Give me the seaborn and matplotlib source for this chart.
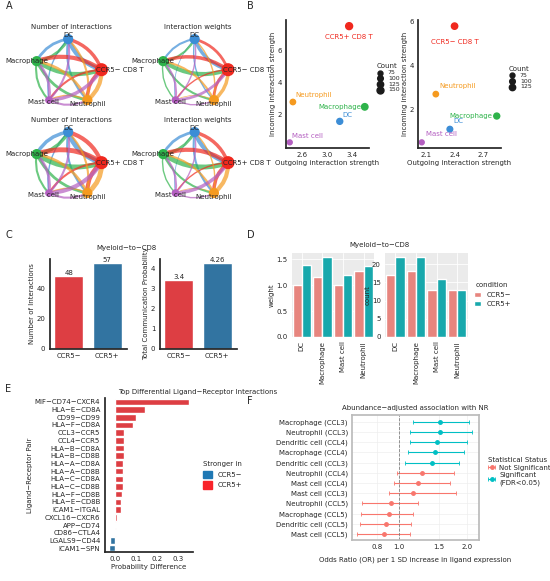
import numpy as np
import pandas as pd
import matplotlib
matplotlib.use("Agg")
import matplotlib.pyplot as plt
import seaborn as sns
from matplotlib.patches import FancyArrowPatch, Patch

sns.set_theme(style="white")
plt.rcParams['font.family'] = ['DejaVu Sans']
plt.rcParams['font.size'] = 5

# ---- data ----
cells = ["DC", "Macrophage", "CD8 T", "Neutrophil", "Mast cell"]
cell_colors = ["#3C8DD6", "#2EB34A", "#F0281E", "#F59A1F", "#B45FC1"]
net_neg_count = np.array([[3, 4, 6, 3, 2], [4, 5, 6, 4, 3], [5, 6, 8, 5, 3],
                          [3, 4, 6, 4, 2], [3, 4, 5, 3, 2]])
net_neg_weight = np.array([[2, 3, 5, 2, 1], [3, 5, 6, 3, 2], [4, 5, 8, 4, 2],
                           [2, 3, 5, 3, 1], [2, 3, 4, 2, 1]])
net_pos_count = np.array([[3, 5, 7, 3, 2], [5, 6, 7, 4, 3], [6, 7, 9, 6, 3],
                          [3, 4, 7, 4, 2], [3, 4, 6, 3, 2]])
net_pos_weight = np.array([[3, 4, 6, 3, 1], [4, 6, 7, 3, 2], [5, 6, 9, 5, 2],
                           [2, 3, 6, 3, 1], [2, 3, 5, 2, 1]])

b_cells = ["CCR5+ CD8 T", "Neutrophil", "Macrophage", "DC", "Mast cell"]
b_pos_x = [3.35, 2.45, 3.6, 3.2, 2.4]
b_pos_y = [7.5, 2.8, 2.5, 1.6, 0.3]
b_pos_n = [150, 90, 130, 110, 75]
b_neg_cells = ["CCR5− CD8 T", "Neutrophil", "Macrophage", "DC", "Mast cell"]
b_neg_x = [2.4, 2.2, 2.85, 2.35, 2.05]
b_neg_y = [5.8, 2.7, 1.7, 1.1, 0.5]
b_neg_n = [125, 90, 110, 100, 75]

groups = ["CCR5−", "CCR5+"]
n_interactions = [48, 57]
total_prob = [3.4, 4.26]

d_cells = ["DC", "Macrophage", "Mast cell", "Neutrophil"]
d_weight_neg = [1.0, 1.15, 1.0, 1.28]
d_weight_pos = [1.4, 1.55, 1.2, 1.38]
d_count_neg = [17, 18, 13, 13]
d_count_pos = [22, 22, 16, 13]

lr_pairs = ["MIF−CD74−CXCR4", "HLA−E−CD8A", "CD99−CD99", "HLA−F−CD8A", "CCL3−CCR5",
            "CCL4−CCR5", "HLA−B−CD8A", "HLA−B−CD8B", "HLA−A−CD8A", "HLA−A−CD8B",
            "HLA−C−CD8A", "HLA−C−CD8B", "HLA−F−CD8B", "HLA−E−CD8B", "ICAM1−ITGAL",
            "CXCL16−CXCR6", "APP−CD74", "CD86−CTLA4", "LGALS9−CD44", "ICAM1−SPN"]
lr_diff = [0.35, 0.14, 0.10, 0.085, 0.04, 0.04, 0.04, 0.04, 0.038, 0.037,
           0.037, 0.036, 0.033, 0.03, 0.028, 0.01, 0.005, 0.002, -0.025, -0.032]

f_labels = ["Macrophage (CCL3)", "Neutrophil (CCL3)", "Dendritic cell (CCL4)",
            "Macrophage (CCL4)", "Dendritic cell (CCL3)", "Neutrophil (CCL4)",
            "Mast cell (CCL4)", "Mast cell (CCL3)", "Neutrophil (CCL5)",
            "Macrophage (CCL5)", "Dendritic cell (CCL5)", "Mast cell (CCL5)"]
f_or = [1.52, 1.52, 1.48, 1.45, 1.40, 1.27, 1.22, 1.15, 0.92, 0.90, 0.88, 0.86]
f_lo = [1.15, 1.12, 1.12, 1.10, 1.06, 0.98, 0.95, 0.90, 0.69, 0.68, 0.67, 0.65]
f_hi = [2.05, 2.10, 2.00, 1.95, 1.85, 1.75, 1.68, 1.78, 1.22, 1.15, 1.13, 1.12]
f_sig = [True] * 5 + [False] * 7

RED, BLUE = "#F8232A", "#1F78B4"
SALMON, TEAL = "#F8766D", "#00BFC4"

fig = plt.figure(figsize=(5.5, 5.81), dpi=100)


def circle_plot(ax, mat, title, tlabel):
    ang = np.deg2rad([90, 160, 5, -55, -125])
    pos = np.c_[np.cos(ang), np.sin(ang)]
    for i in range(5):
        for j in range(5):
            if i == j:
                continue
            a = FancyArrowPatch(pos[i], pos[j], connectionstyle="arc3,rad=0.25",
                                arrowstyle="-", lw=mat[i, j] * 0.5,
                                color=cell_colors[i], alpha=0.7)
            ax.add_patch(a)
    ax.scatter(pos[:, 0], pos[:, 1], s=[40, 40, 70, 40, 20], c=cell_colors, zorder=3)
    names = list(cells)
    names[2] = tlabel
    offs = [(0, 0.12), (-0.3, 0), (0.55, 0), (0, -0.12), (-0.15, -0.05)]
    for k, nm in enumerate(names):
        ax.text(pos[k, 0] + offs[k][0], pos[k, 1] + offs[k][1], nm, ha="center",
                va="center", fontsize=5, zorder=4)
    ax.set_title(title, fontsize=5, pad=0)
    ax.set_xlim(-1.4, 1.6)
    ax.set_ylim(-1.3, 1.3)
    ax.set_aspect("equal")
    ax.axis("off")


# A
for (l, b), mat, title, tl in [((0.03, 0.80), net_neg_count, "Number of interactions", "CCR5− CD8 T"),
                               ((0.26, 0.80), net_neg_weight, "Interaction weights", "CCR5− CD8 T"),
                               ((0.03, 0.64), net_pos_count, "Number of interactions", "CCR5+ CD8 T"),
                               ((0.26, 0.64), net_pos_weight, "Interaction weights", "CCR5+ CD8 T")]:
    circle_plot(fig.add_axes([l, b, 0.2, 0.15]), mat, title, tl)

# B
col_map = {"CD8": "#F0281E", "Neutrophil": "#F59A1F", "Macrophage": "#2EB34A",
           "DC": "#3C8DD6", "Mast cell": "#B45FC1"}
for (l, names, xs, ys, ns, ticks) in [(0.52, b_cells, b_pos_x, b_pos_y, b_pos_n, [2.6, 3.0, 3.4]),
                                       (0.76, b_neg_cells, b_neg_x, b_neg_y, b_neg_n, [2.1, 2.4, 2.7])]:
    ax = fig.add_axes([l, 0.745, 0.15, 0.22])
    cols = [col_map["CD8"] if "CD8" in n else col_map[n] for n in names]
    ax.scatter(xs, ys, s=np.array(ns) / 6, c=cols)
    for x, y, n, c in zip(xs, ys, names, cols):
        if "CD8" in n:
            ax.text(x, y - 0.8, n, color=c, ha="center", fontsize=5)
        elif n == "Macrophage":
            ax.text(x - 0.05, y, n, color=c, ha="right", va="center", fontsize=5)
        else:
            ax.text(x + 0.04, y + 0.3, n, color=c, fontsize=5)
    ax.set_xticks(ticks)
    ax.set_yticks([2, 4, 6])
    ax.tick_params(labelsize=5, length=2, pad=1)
    sns.despine(ax=ax)
    ax.set_xlabel("Outgoing interaction strength", fontsize=5, labelpad=1)
    ax.set_ylabel("Incoming interaction strength", fontsize=5, labelpad=1)
    nleg = 4 if l < 0.6 else 3
    ax.legend(handles=[plt.scatter([], [], s=v / 6, c="k") for v in [75, 100, 125, 150][:nleg]],
              labels=["75", "100", "125", "150"][:nleg], title="Count", fontsize=4.5,
              title_fontsize=5, frameon=False, loc="center left", bbox_to_anchor=(1.0, 0.55),
              labelspacing=0.05, handletextpad=0.2)
fig.text(0.01, 0.985, "A", fontsize=7)
fig.text(0.45, 0.985, "B", fontsize=7)

# C
fig.text(0.01, 0.59, "C", fontsize=7)
fig.text(0.23, 0.57, "Myeloid−to−CD8", fontsize=5, ha="center")
for l, vals, yl, fmt, yt in [(0.09, n_interactions, "Number of Interactions", "{:d}", [0, 20, 40]),
                             (0.29, total_prob, "Total Communication Probability", "{}", [0, 1, 2, 3, 4])]:
    ax = fig.add_axes([l, 0.40, 0.14, 0.155])
    sns.barplot(x=groups, y=vals, palette=[RED, BLUE], hue=groups, legend=False, ax=ax, width=0.75)
    for i, v in enumerate(vals):
        ax.text(i, v, fmt.format(v), ha="center", va="bottom", fontsize=5)
    ax.set_yticks(yt)
    ax.set_ylabel(yl, fontsize=5, labelpad=1)
    ax.tick_params(labelsize=5, length=2, pad=1)
    sns.despine(ax=ax)

# D
fig.text(0.45, 0.59, "D", fontsize=7)
fig.text(0.69, 0.575, "Myeloid−to−CD8", fontsize=5, ha="center")
for l, neg, pos, yl, yt in [(0.53, d_weight_neg, d_weight_pos, "weight", [0, 0.5, 1.0, 1.5]),
                            (0.70, d_count_neg, d_count_pos, "count", [0, 5, 10, 15, 20])]:
    ax = fig.add_axes([l, 0.42, 0.15, 0.145])
    df = pd.DataFrame({"cell": d_cells * 2, "val": neg + pos,
                       "condition": ["CCR5−"] * 4 + ["CCR5+"] * 4})
    sns.barplot(df, x="cell", y="val", hue="condition", palette=[SALMON, TEAL], ax=ax,
                width=0.9, legend=(l > 0.6))
    ax.set_facecolor("#EBEBEB")
    ax.grid(True, color="white", lw=0.6)
    ax.set_axisbelow(True)
    for s in ax.spines.values():
        s.set_visible(False)
    ax.set_yticks(yt)
    ax.set_ylabel(yl, fontsize=5, labelpad=1)
    ax.set_xlabel("")
    ax.tick_params(labelsize=5, length=2, pad=1)
    ax.tick_params(axis="x", rotation=90)
    if l > 0.6:
        ax.legend(title="condition", fontsize=5, title_fontsize=5, frameon=False,
                  loc="center left", bbox_to_anchor=(1.0, 0.5), handlelength=1)

# E
fig.text(0.01, 0.325, "E", fontsize=7)
ax = fig.add_axes([0.19, 0.05, 0.16, 0.265])
ecols = [RED if v > 0 else BLUE for v in lr_diff]
sns.barplot(x=lr_diff, y=lr_pairs, palette=ecols, hue=lr_pairs, legend=False, ax=ax, orient="h", width=0.85)
ax.set_title("Top Differential Ligand−Receptor Interactions", fontsize=5, pad=3, loc="left", x=0.15)
ax.set_xticks([0.0, 0.1, 0.2, 0.3])
ax.set_xlabel("Probability Difference", fontsize=5, labelpad=1)
ax.set_ylabel("Ligand−Receptor Pair", fontsize=5, labelpad=1)
ax.tick_params(labelsize=5, length=2, pad=1)
sns.despine(ax=ax)
ax.legend(handles=[Patch(color=BLUE), Patch(color=RED)], labels=groups, title="Stronger in",
          fontsize=5, title_fontsize=5, frameon=False, loc="center left", bbox_to_anchor=(1.05, 0.5),
          handlelength=1.2, handleheight=1.2)

# F
fig.text(0.45, 0.305, "F", fontsize=7)
ax = fig.add_axes([0.64, 0.07, 0.23, 0.215])
yy = np.arange(len(f_labels))
for sig, col, lab in [(False, SALMON, "Not Significant"), (True, TEAL, "Significant\n(FDR<0.05)")]:
    idx = [i for i, s in enumerate(f_sig) if s == sig]
    ax.errorbar(np.array(f_or)[idx], yy[idx],
                xerr=[np.array(f_or)[idx] - np.array(f_lo)[idx], np.array(f_hi)[idx] - np.array(f_or)[idx]],
                fmt="o", color=col, ms=2.5, lw=0.8, capsize=1.5, capthick=0.6, label=lab)
ax.axvline(1.0, ls="--", color="grey", lw=0.6)
ax.set_xscale("log")
ax.set_xlim(0.62, 2.25)
ax.set_xticks([0.8, 1.0, 1.5, 2.0])
ax.set_xticklabels(["0.8", "1.0", "1.5", "2.0"])
ax.minorticks_off()
ax.set_yticks(yy)
ax.set_yticklabels(f_labels)
ax.set_ylim(len(f_labels) - 0.4, -0.6)
ax.grid(True, color="#EEEEEE", lw=0.5)
for s in ax.spines.values():
    s.set_color("#BBBBBB")
ax.tick_params(labelsize=5, length=2, pad=1)
ax.set_title("Abundance−adjusted association with NR", fontsize=5, pad=4)
ax.set_xlabel("Odds Ratio (OR) per 1 SD increase in ligand expression", fontsize=5, labelpad=4)
ax.legend(title="Statistical Status", fontsize=5, title_fontsize=5, frameon=False,
          loc="center left", bbox_to_anchor=(1.0, 0.55), handletextpad=0.1, labelspacing=0.2)

fig.savefig("out.png", dpi=100)
